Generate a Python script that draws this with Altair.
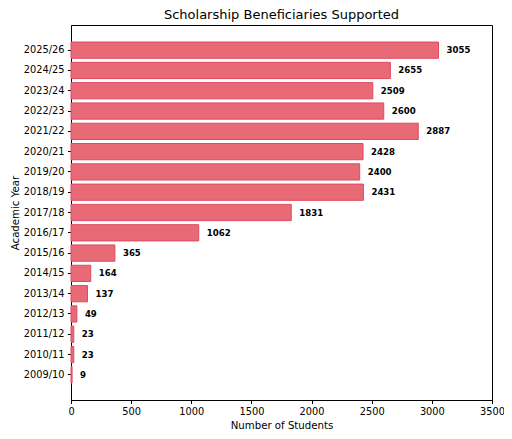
import altair as alt
import pandas as pd

years = ["2025/26", "2024/25", "2023/24", "2022/23", "2021/22", "2020/21",
         "2019/20", "2018/19", "2017/18", "2016/17", "2015/16", "2014/15",
         "2013/14", "2012/13", "2011/12", "2010/11", "2009/10"]
students = [3055, 2655, 2509, 2600, 2887, 2428, 2400, 2431, 1831, 1062,
            365, 164, 137, 49, 23, 23, 9]

df = pd.DataFrame({"year": years, "students": students})

FONT = "DejaVu Sans"

y_enc = alt.Y(
    "year:N",
    sort=years,
    title="Academic Year",
    scale=alt.Scale(paddingInner=0.2, paddingOuter=0.84),
    axis=alt.Axis(labelFontSize=9.8, titleFontSize=10.2, titleFontWeight="normal",
                  titlePadding=3, labelPadding=3.5),
)
x_enc = alt.X(
    "students:Q",
    title="Number of Students",
    scale=alt.Scale(domain=[0, 3500], nice=False),
    axis=alt.Axis(values=list(range(0, 3501, 500)), format="d", labelFontSize=9.8,
                  titleFontSize=10.2, titleFontWeight="normal", grid=False,
                  labelFlush=False, titlePadding=4, labelPadding=3),
)

bars = alt.Chart(df).mark_bar(
    fill="#e86a77", stroke="#df4a5e", strokeWidth=1
).encode(x=x_enc, y=y_enc)

labels = alt.Chart(df).mark_text(
    align="left", baseline="middle", dx=8, fontSize=8.6, fontWeight="bold",
    color="black", font=FONT
).encode(x=alt.X("students:Q"), y=alt.Y("year:N", sort=years), text="students:Q")

chart = (
    alt.layer(bars, labels)
    .properties(
        width=421,
        height=375,
        title=alt.TitleParams("Scholarship Beneficiaries Supported", fontSize=13,
                              fontWeight="normal", font=FONT, offset=3),
        autosize=alt.AutoSizeParams(type="none"),
        padding={"left": 63, "top": 17, "right": 12, "bottom": 31},
    )
    .configure_view(stroke="black", strokeWidth=1)
    .configure_axis(
        labelFont=FONT, titleFont=FONT, labelColor="black", titleColor="black",
        domainColor="black", tickColor="black", tickSize=3.5, grid=False,
    )
)

chart.save("out.html", embed_options={"renderer": "svg", "actions": False})
